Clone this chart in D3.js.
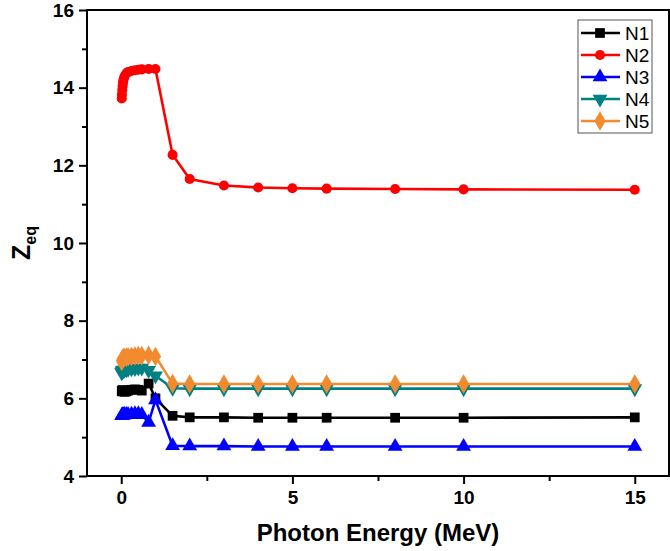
<!DOCTYPE html>
<html><head><meta charset="utf-8">
<script src="https://cdn.jsdelivr.net/npm/d3@7"></script>
<style>body{margin:0;background:#fff}svg{display:block}text{font-family:"Liberation Sans",Arial,sans-serif}</style>
</head><body>
<svg id="c" width="670" height="551"></svg>
<script>
const energies = [0.015,0.02,0.03,0.04,0.05,0.06,0.08,0.1,0.15,0.2,0.3,0.4,0.5,0.6,0.8,1,1.5,2,3,4,5,6,8,10,15];
const N1 = [6.18,6.19,6.20,6.21,6.20,6.19,6.18,6.17,6.18,6.20,6.22,6.23,6.22,6.20,6.38,6.00,5.55,5.51,5.51,5.50,5.50,5.50,5.50,5.50,5.51];
const N2 = [13.72,13.82,13.94,14.04,14.12,14.18,14.25,14.30,14.37,14.40,14.43,14.45,14.46,14.47,14.48,14.48,12.27,11.65,11.48,11.43,11.41,11.40,11.39,11.38,11.37];
const N3 = [5.55,5.56,5.56,5.57,5.57,5.57,5.57,5.58,5.58,5.58,5.59,5.60,5.60,5.58,5.38,5.96,4.78,4.77,4.77,4.76,4.76,4.76,4.76,4.76,4.76];
const N4 = [6.66,6.68,6.70,6.71,6.72,6.72,6.73,6.73,6.74,6.75,6.76,6.77,6.78,6.78,6.72,6.58,6.26,6.25,6.25,6.25,6.25,6.25,6.25,6.25,6.25];
const N5 = [6.95,6.98,7.00,7.02,7.03,7.04,7.05,7.05,7.06,7.07,7.08,7.09,7.10,7.10,7.11,7.08,6.38,6.37,6.37,6.37,6.37,6.37,6.37,6.37,6.37];
const seriesNames = ["N1","N2","N3","N4","N5"];
const seriesValues = [N1,N2,N3,N4,N5];
const colors = ["#000000","#ff0000","#0000ff","#008080","#f28a30"];
const symbols = [d3.symbolSquare,d3.symbolCircle,d3.symbolTriangle,d3.symbolTriangle,d3.symbolDiamond];
const symSize = [95,80,95,95,110];
const xTicks = [0,5,10,15];
const xMinor = [2.5,7.5,12.5];
const yTicks = [4,6,8,10,12,14,16];
const yMinor = [5,7,9,11,13,15];

const svg = d3.select("#c");
const L=87,R=669,T=10,B=476;
const x = d3.scaleLinear().domain([-1,16]).range([L,R]);
const y = d3.scaleLinear().domain([4,16]).range([B,T]);

const xa = svg.append("g").attr("transform",`translate(0,${B})`)
  .call(d3.axisBottom(x).tickValues(xTicks).tickSize(8).tickPadding(7).tickFormat(d3.format("d")));
const xm = svg.append("g").attr("transform",`translate(0,${B})`)
  .call(d3.axisBottom(x).tickValues(xMinor).tickSize(5).tickFormat(""));
const ya = svg.append("g").attr("transform",`translate(${L},0)`)
  .call(d3.axisLeft(y).tickValues(yTicks).tickSize(8).tickPadding(5).tickFormat(d3.format("d")));
const ym = svg.append("g").attr("transform",`translate(${L},0)`)
  .call(d3.axisLeft(y).tickValues(yMinor).tickSize(5).tickFormat(""));
[xa,xm,ya,ym].forEach(g=>{
  g.select(".domain").remove();
  g.selectAll(".tick line").attr("stroke","#000").attr("stroke-width",2);
  g.selectAll(".tick text").attr("font-size",19).attr("font-weight","bold").attr("fill","#000");
});
svg.append("rect").attr("x",L).attr("y",T).attr("width",R-L).attr("height",B-T)
  .attr("fill","none").attr("stroke","#000").attr("stroke-width",2);

const line = d3.line().x((d,i)=>x(energies[i])).y(d=>y(d));
seriesValues.forEach((vals,k)=>{
  const g = svg.append("g");
  g.append("path").datum(vals).attr("d",line).attr("fill","none")
    .attr("stroke",colors[k]).attr("stroke-width",2.6).attr("stroke-linejoin","round");
  g.selectAll("path.m").data(vals).join("path").attr("class","m")
    .attr("d",d3.symbol().type(symbols[k]).size(symSize[k]))
    .attr("transform",(d,i)=>`translate(${x(energies[i])},${y(d)})${k===3?" rotate(180)":""}`)
    .attr("fill",colors[k]);
});

const lg = svg.append("g");
lg.append("rect").attr("x",578).attr("y",20).attr("width",74).attr("height",113)
  .attr("fill","#fff").attr("stroke","#555").attr("stroke-width",1);
seriesNames.forEach((n,k)=>{
  const yy = 33 + k*22;
  lg.append("line").attr("x1",581).attr("x2",620).attr("y1",yy).attr("y2",yy)
    .attr("stroke",colors[k]).attr("stroke-width",2.6);
  lg.append("path").attr("d",d3.symbol().type(symbols[k]).size(symSize[k]))
    .attr("transform",`translate(600,${yy})${k===3?" rotate(180)":""}`).attr("fill",colors[k]);
  lg.append("text").attr("x",625).attr("y",yy+7).attr("font-size",19).text(n);
});

svg.append("text").attr("x",(L+R)/2).attr("y",541).attr("text-anchor","middle")
  .attr("font-size",24).attr("font-weight","bold").text("Photon Energy (MeV)");
const yt = svg.append("text").attr("transform","translate(30,243) rotate(-90)")
  .attr("text-anchor","middle").attr("font-size",25).attr("font-weight","bold");
yt.append("tspan").text("Z");
yt.append("tspan").attr("font-size",16).attr("dy",6).text("eq");
</script>
</body></html>
